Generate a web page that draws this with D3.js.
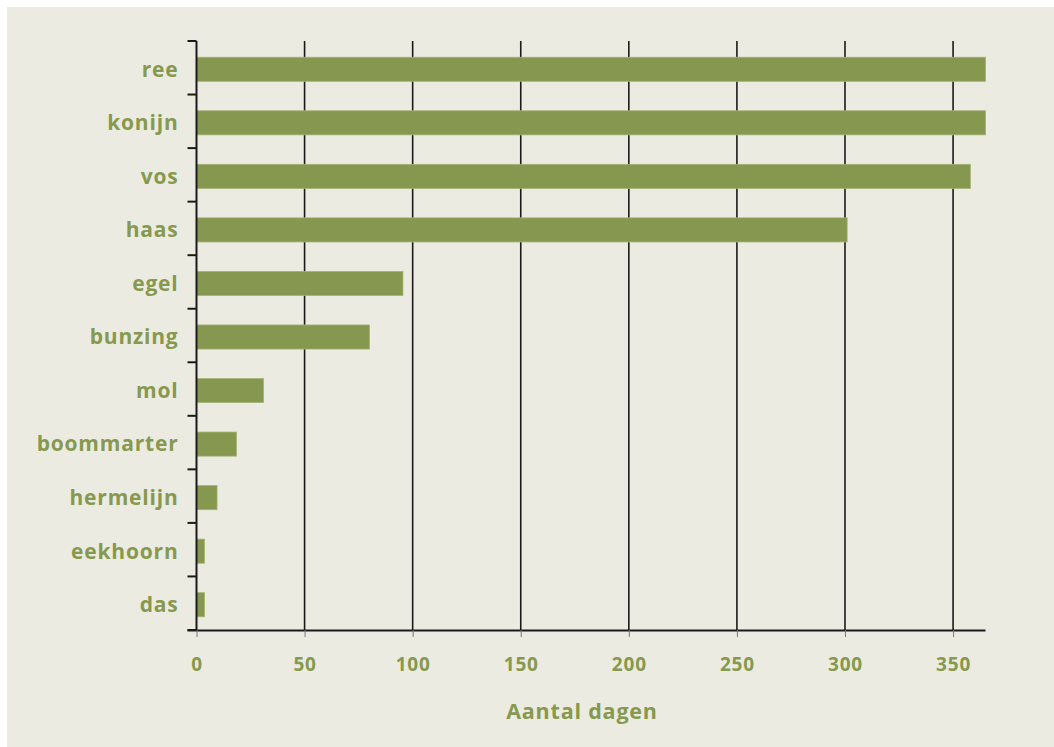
<!DOCTYPE html>
<html lang="nl">
<head>
<meta charset="UTF-8">
<title>Aantal dagen</title>
<script src="https://d3js.org/d3.v7.min.js"></script>
<style>
  body { margin: 0; background: #fff; }
  text { font-family: "Open Sans", Lato, sans-serif; font-weight: 700; fill: #86994f; letter-spacing: 0.8px; }
</style>
</head>
<body>
<div id="chart"></div>
<script>
// data
const animals = ["ree", "konijn", "vos", "haas", "egel", "bunzing", "mol", "boommarter", "hermelijn", "eekhoorn", "das"];
const days = [365, 365, 358, 301, 95.5, 80, 31, 18.5, 9.5, 3.7, 3.7];
const xTicks = [0, 50, 100, 150, 200, 250, 300, 350];
const xTitle = "Aantal dagen";

const W = 1054, H = 747;
const mLeft = 196.5, mRight = 985.5, mTop = 41, mBottom = 630;

const svg = d3.select("#chart").append("svg").attr("width", W).attr("height", H);

svg.append("rect").attr("x", 7).attr("y", 7).attr("width", W - 7).attr("height", H - 7)
  .attr("fill", "#ecebe1");

const x = d3.scaleLinear().domain([0, 365]).range([mLeft, mRight]);
const y = d3.scaleBand().domain(animals).range([mTop, mBottom]).paddingInner(0.55).paddingOuter(0.275);
const yb = d3.scaleBand().domain(animals).range([mTop, mBottom]);

// vertical grid lines
svg.append("g").selectAll("line").data(xTicks.slice(1)).join("line")
  .attr("x1", d => x(d)).attr("x2", d => x(d))
  .attr("y1", mTop).attr("y2", mBottom)
  .attr("stroke", "#1a1a1a").attr("stroke-width", 1.6);

// bars
svg.append("g").selectAll("rect").data(animals).join("rect")
  .attr("x", x(0))
  .attr("y", d => y(d) + 1.5)
  .attr("width", (d, i) => x(days[i]) - x(0))
  .attr("height", y.bandwidth())
  .attr("fill", "#86984f")
  .attr("stroke", "#a4b374").attr("stroke-width", 0.8);

// x axis
const xAxis = svg.append("g").attr("transform", `translate(0,${mBottom})`)
  .call(d3.axisBottom(x).tickValues(xTicks).tickSize(7).tickPadding(21));
xAxis.select(".domain").attr("d", `M${mLeft - 9},0.5H${mRight}`).attr("stroke", "#1a1a1a").attr("stroke-width", 2);
xAxis.selectAll(".tick line").attr("stroke", "#777").attr("stroke-width", 1);
xAxis.selectAll(".tick text").attr("font-size", 19).attr("font-family", null).attr("fill", null);

// y axis
const yAxis = svg.append("g").attr("transform", `translate(${mLeft},0)`);
yAxis.append("line").attr("x1", 0).attr("x2", 0).attr("y1", mTop).attr("y2", mBottom)
  .attr("stroke", "#1a1a1a").attr("stroke-width", 2);
const bounds = animals.map(d => yb(d)).concat([mBottom]);
yAxis.selectAll("line.tk").data(bounds).join("line").attr("class", "tk")
  .attr("x1", -9).attr("x2", 0).attr("y1", d => d).attr("y2", d => d)
  .attr("stroke", "#1a1a1a").attr("stroke-width", 2);
yAxis.selectAll("text").data(animals).join("text")
  .attr("x", -18)
  .attr("y", d => y(d) + 1.5 + y.bandwidth() / 2)
  .attr("dy", "0.35em")
  .attr("text-anchor", "end")
  .attr("font-size", 21)
  .text(d => d);

// axis title
svg.append("text").attr("x", 582).attr("y", 719)
  .attr("text-anchor", "middle").attr("font-size", 21.5)
  .text(xTitle);
</script>
</body>
</html>
